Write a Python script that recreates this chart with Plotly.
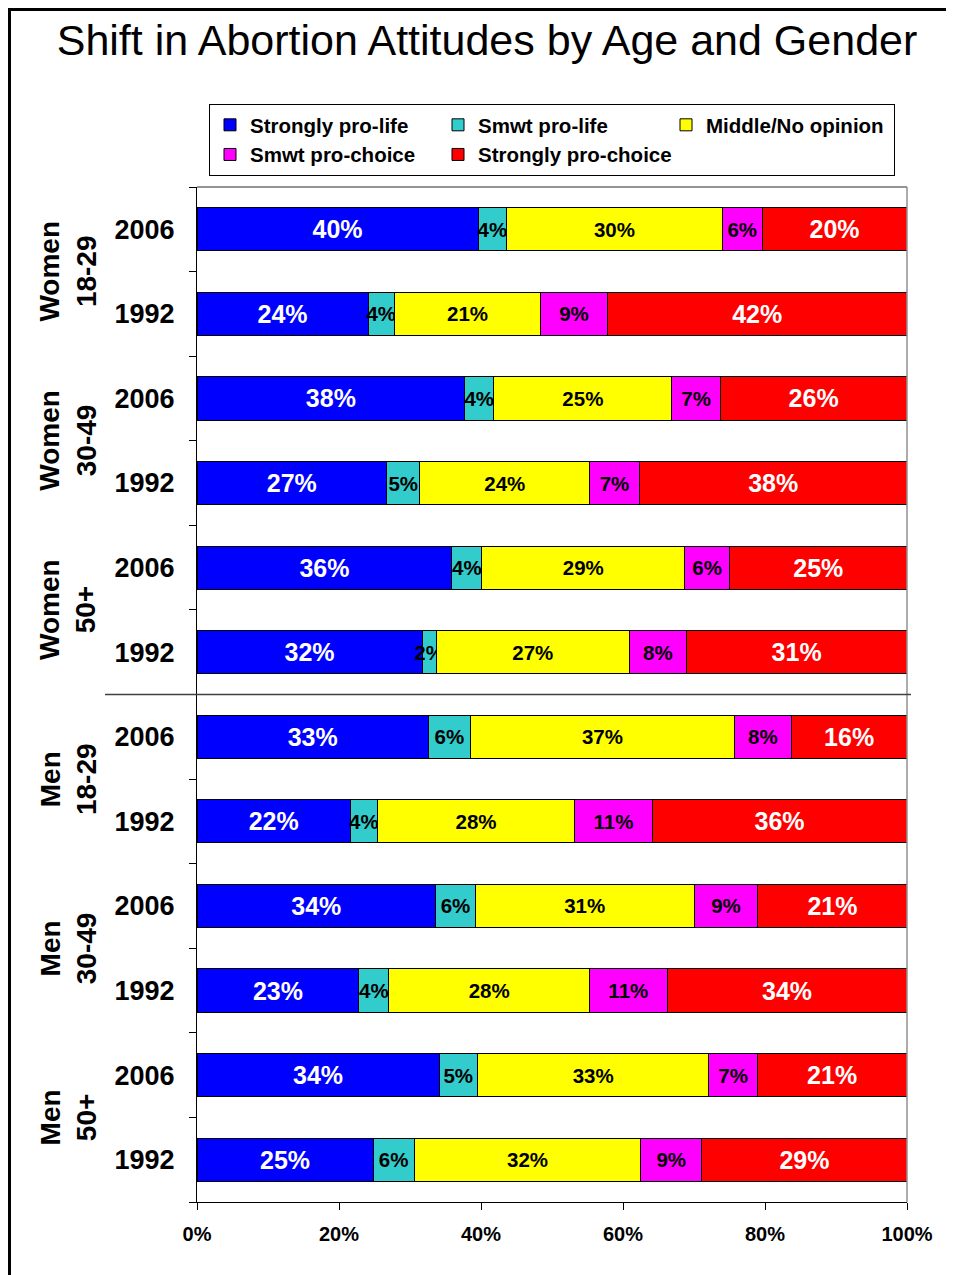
import plotly.graph_objects as go

# ---- data (rows top to bottom) ----
groups = ["Women<br>18-29", "Women<br>30-49", "Women<br>50+",
          "Men<br>18-29", "Men<br>30-49", "Men<br>50+"]
years = ["2006", "1992"] * 6

series_names = ["Strongly pro-life", "Smwt pro-life", "Middle/No opinion",
                "Smwt pro-choice", "Strongly pro-choice"]
strongly_pro_life = [39.6, 24.1, 37.7, 26.7, 35.9, 31.7, 32.6, 21.6, 33.6, 22.8, 34.1, 24.8]
smwt_pro_life = [4.0, 3.7, 4.1, 4.7, 4.2, 2.0, 5.9, 3.8, 5.6, 4.2, 5.4, 5.8]
middle_no_opinion = [30.4, 20.6, 25.1, 23.9, 28.6, 27.2, 37.2, 27.8, 30.8, 28.3, 32.6, 31.9]
smwt_pro_choice = [5.6, 9.4, 6.8, 7.0, 6.3, 8.0, 8.0, 10.9, 9.0, 10.9, 6.8, 8.6]
strongly_pro_choice = [20.4, 42.2, 26.3, 37.7, 25.0, 31.1, 16.3, 35.9, 21.0, 33.8, 21.1, 28.9]

x_tick_vals = [0, 20, 40, 60, 80, 100]
x_tick_labels = ["0%", "20%", "40%", "60%", "80%", "100%"]

series_values = [strongly_pro_life, smwt_pro_life, middle_no_opinion,
                 smwt_pro_choice, strongly_pro_choice]
colors = ["#0000FF", "#33CCCC", "#FFFF00", "#FF00FF", "#FF0000"]
text_colors = ["white", "black", "black", "black", "white"]
text_sizes = [25, 20.5, 20.5, 20.5, 25]

FONT = "Liberation Sans, Arial, sans-serif"

# page offset (browser body margin) and figure geometry
OFF = 8
W, H = 954 - OFF, 1275 - OFF
# plot area in page pixels
L_P, R_P, T_P, B_P = 197, 907, 187, 1202
L, R, T, B = L_P - OFF, R_P - OFF, T_P - OFF, B_P - OFF
PW, PH = R - L, B - T


def px_x(page_px):
    return (page_px - OFF - L) / PW


def px_y(page_py):
    return (B - (page_py - OFF)) / PH


rows = list(range(len(years)))

fig = go.Figure()
for name, vals, col, tcol, tsz in zip(series_names, series_values, colors, text_colors, text_sizes):
    fig.add_trace(go.Bar(
        x=vals, y=rows, orientation="h", name=name,
        marker=dict(color=col, line=dict(color="black", width=1)),
        texttemplate="%{x:.0f}%", textposition="inside",
        insidetextanchor="middle", textangle=0, constraintext="none",
        insidetextfont=dict(family=FONT, size=tsz, color=tcol, weight="bold"),
        hoverinfo="skip",
    ))

shapes = []
# outer frame (top and left)
shapes.append(dict(type="line", xref="paper", yref="paper",
                   x0=px_x(OFF), x1=px_x(954), y0=px_y(OFF + 1.5), y1=px_y(OFF + 1.5),
                   line=dict(color="black", width=3)))
shapes.append(dict(type="line", xref="paper", yref="paper",
                   x0=px_x(OFF + 1.5), x1=px_x(OFF + 1.5), y0=px_y(OFF), y1=px_y(1275),
                   line=dict(color="black", width=3)))
# top and right plot border (gray)
shapes.append(dict(type="line", xref="paper", yref="paper",
                   x0=0, x1=1, y0=1, y1=1, line=dict(color="#707070", width=1.5)))
shapes.append(dict(type="line", xref="paper", yref="paper",
                   x0=1, x1=1, y0=0, y1=1, line=dict(color="#909090", width=1.5)))
# women / men divider
shapes.append(dict(type="line", xref="paper", yref="y",
                   x0=px_x(105), x1=px_x(911), y0=5.5, y1=5.5,
                   line=dict(color="#404040", width=1.5)))

annotations = []
for i, g in enumerate(groups):
    annotations.append(dict(
        text=g, xref="paper", yref="y", x=px_x(68), y=2 * i + 0.5,
        textangle=-90, showarrow=False, xanchor="center", yanchor="middle",
        font=dict(family=FONT, size=28, color="black", weight="bold"),
    ))

fig.update_layout(
    width=W, height=H,
    margin=dict(l=L, r=W - R, t=T, b=H - B, pad=0),
    paper_bgcolor="white", plot_bgcolor="white",
    barmode="stack", bargap=0.49,
    title=dict(text="Shift in Abortion Attitudes by Age and Gender",
               x=(487 - OFF) / W, xref="container", xanchor="center",
               y=1 - (40 - OFF) / H, yref="container", yanchor="middle",
               font=dict(family=FONT, size=43, color="black")),
    legend=dict(orientation="h", x=px_x(209), y=px_y(104),
                xanchor="left", yanchor="top",
                bordercolor="black", borderwidth=1, bgcolor="white",
                entrywidth=183, entrywidthmode="pixels",
                font=dict(family=FONT, size=20.5, color="black", weight="bold"),
                traceorder="normal", itemclick=False, itemdoubleclick=False),
    xaxis=dict(range=[0, 100], tickmode="array", tickvals=x_tick_vals, ticktext=x_tick_labels,
               ticks="outside", ticklen=7, tickcolor="black", ticklabelstandoff=7,
               showline=True, linecolor="black", linewidth=1,
               showgrid=False, zeroline=False,
               tickfont=dict(family=FONT, size=20, color="black", weight="bold")),
    yaxis=dict(range=[len(rows) - 0.5, -0.5], tickmode="array", tickvals=rows, ticktext=years,
               ticks="", ticklabelstandoff=16,
               minor=dict(tickmode="array",
                          tickvals=[r - 0.5 for r in rows] + [len(rows) - 0.5],
                          ticks="outside", ticklen=7, tickcolor="black", showgrid=False),
               showline=True, linecolor="black", linewidth=1,
               showgrid=False, zeroline=False,
               tickfont=dict(family=FONT, size=27, color="black", weight="bold")),
    shapes=shapes, annotations=annotations,
    showlegend=True,
)

fig.write_html("out.html")
